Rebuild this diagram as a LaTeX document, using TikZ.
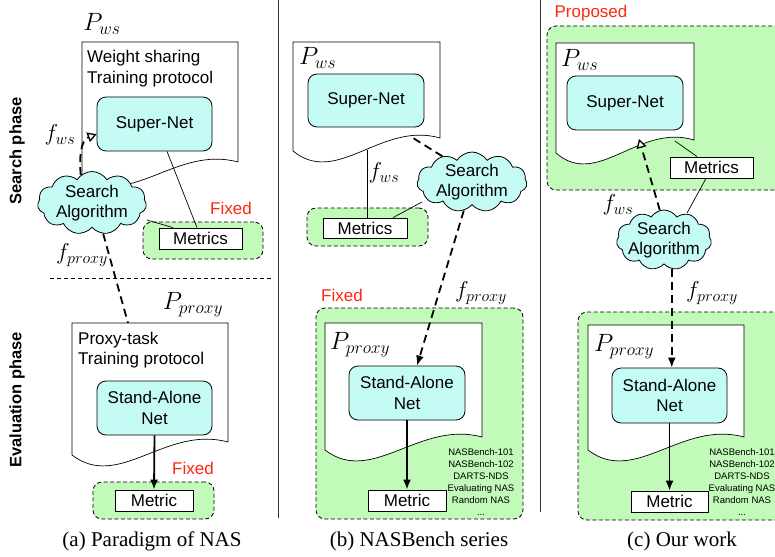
\documentclass[tikz,border=0pt]{standalone}
\usepackage{fix-cm}
\usepackage{fontspec}
\setmainfont{Liberation Sans}
\newfontfamily\capfont{Liberation Serif}
\usetikzlibrary{shapes.symbols,arrows.meta}
\definecolor{cyanfill}{RGB}{197,251,245}
\definecolor{greenfill}{RGB}{194,250,185}
\definecolor{redtxt}{RGB}{255,38,18}
\tikzset{
 txt/.style={font=\fontsize{17}{20.5}\selectfont, inner sep=0pt, align=center},
 netbox/.style={draw, line width=0.8pt, fill=cyanfill, rounded corners=9pt, txt},
 metbox/.style={draw, line width=0.8pt, fill=white, txt},
 greenbox/.style={draw, dash pattern=on 4pt off 2.5pt, line width=0.8pt, fill=greenfill, rounded corners=9pt},
 docline/.style={draw, line width=0.7pt, fill=white},
 cloudst/.style={cloud, cloud puffs=11, cloud puff arc=115, cloud ignores aspect, draw, line width=0.8pt, fill=cyanfill, inner sep=0pt},
 plab/.style={font=\fontsize{25}{30}\selectfont, inner sep=0pt},
 flab/.style={font=\fontsize{23}{28}\selectfont, inner sep=0pt},
 redlab/.style={txt, text=redtxt},
 conn/.style={line width=0.7pt},
 dasharrow/.style={line width=1.8pt, dash pattern=on 8pt off 5pt},
 openhead/.style={-{Triangle[open,length=9pt,width=10pt,fill=white,line width=1.3pt]}},
 fullhead/.style={-{Latex[length=10pt,width=8pt]}},
 capst/.style={font=\capfont\fontsize{21}{25}\selectfont, inner sep=0pt},
 phase/.style={font=\bfseries\fontsize{16.5}{20}\selectfont, rotate=90, inner sep=0pt},
 listst/.style={font=\fontsize{9.5}{12}\selectfont, align=center, inner sep=0pt}
}
% document shape: x1, y1 (top), x2, yb (left bottom end)
\newcommand\docshape[4]{%
 \path[docline] (#1,#2) -- (#3,#2) -- (#3,{#4-13}) .. controls ({#1+0.6*(#3-#1)},{#4-30}) and ({#1+0.3*(#3-#1)},{#4+36}) .. (#1,#4) -- cycle;}
\begin{document}
\begin{tikzpicture}[x=1pt,y=-1pt]
\useasboundingbox (0,0) rectangle (775,556);
\clip (0,0) rectangle (775,556);
\fill[white] (0,0) rectangle (775,556);

% dividers
\coordinate (divAt) at (278,0); \coordinate (divAb) at (278,518);
\coordinate (divBt) at (540,0); \coordinate (divBb) at (540,512);
\draw[line width=1pt, black!80] (divAt) -- (divAb);
\draw[line width=1pt, black!80] (divBt) -- (divBb);
\coordinate (sepL) at (50,278); \coordinate (sepR) at (272,278);
\draw[line width=0.8pt, dash pattern=on 4pt off 3pt] (sepL) -- (sepR);

% phase labels
\node[phase] (phS) at (17,151) {Search phase};
\node[phase] (phE) at (17,400) {Evaluation phase};

%%%%%%%%%%%% (a)
\node[greenbox, minimum width=120pt, minimum height=37pt] (greenA) at (203,240.5) {};
\node[greenbox, minimum width=121pt, minimum height=37pt] (greenA2) at (153.5,500.5) {};
\docshape{82}{42}{238}{175}
\docshape{72}{323}{228}{455}
\node[plab] (PwsA) at (102,24) {$P_{ws}$};
\node[txt, align=left, anchor=west] (wsA) at (87,68.5) {Weight sharing\\Training protocol};
\node[netbox, minimum width=115pt, minimum height=54pt] (supernetA) at (154.5,124) {Super-Net};
\node[metbox, minimum width=83pt, minimum height=21pt] (metricsA) at (200.5,238.5) {Metrics};
\node[redlab] (fixA) at (231,208) {Fixed};
\node[flab] (fwsA) at (60,135) {$f_{ws}$};
\node[flab] (fproxyA) at (82,255) {$f_{proxy}$};
\node[plab] (PproxyA) at (193,305) {$P_{proxy}$};
\node[txt, align=left, anchor=west] (ptA) at (78,350) {Proxy-task\\Training protocol};
\node[netbox, minimum width=115pt, minimum height=54pt] (sanetA) at (154.5,408) {Stand-Alone\\Net};
\node[metbox, minimum width=78pt, minimum height=21pt] (metricA) at (154,500.5) {Metric};
\node[redlab] (fixA2) at (193,468) {Fixed};
\coordinate (docAptop) at (128,323);
\draw[conn] ([xshift=12.5pt]supernetA.south) -- ([xshift=-3.5pt]metricsA.north);
\draw[conn] (147,220) coordinate (clAm) -- ([xshift=-27.5pt]metricsA.north);
\node[cloudst, minimum width=109pt, minimum height=63pt] (cloudA) at (92,203) {};
\node[txt] (cloudAt) at (cloudA.center) {Search\\Algorithm};
\draw[dasharrow, openhead] (cloudA.112) to[out=95,in=200] (supernetA.190);
\draw[dasharrow] (cloudA.-70) -- (docAptop);
\draw[line width=1.8pt, fullhead] (sanetA.south) -- (metricA.north);
\node[capst] (capA) at (152,541) {(a) Paradigm of NAS};

%%%%%%%%%%%% (b)
\node[greenbox, minimum width=121pt, minimum height=38pt] (greenB) at (367.5,227) {};
\node[greenbox, minimum width=207pt, minimum height=211pt] (greenB2) at (419.5,413.5) {};
\docshape{293}{42}{440}{151}
\docshape{325}{323}{482}{450}
\node[plab, anchor=west] (PwsB) at (299,58) {$P_{ws}$};
\node[netbox, minimum width=116pt, minimum height=53pt] (supernetB) at (366,100.5) {Super-Net};
\node[metbox, minimum width=84pt, minimum height=20pt] (metricsB) at (365,228) {Metrics};
\node[flab] (fwsB) at (384,173) {$f_{ws}$};
\node[redlab] (fixB) at (342,295) {Fixed};
\node[flab] (fproxyB) at (481,293) {$f_{proxy}$};
\node[plab, anchor=west] (PproxyB) at (330,345) {$P_{proxy}$};
\node[netbox, minimum width=116pt, minimum height=54pt] (sanetB) at (407,393) {Stand-Alone\\Net};
\node[metbox, minimum width=78pt, minimum height=21pt] (metricB) at (407,500.5) {Metric};
\node[listst] (listB) at (481,482) {NASBench-101\\NASBench-102\\DARTS-NDS\\Evaluating NAS\\Random NAS\\...};
\coordinate (docBbot) at (367,150);
\coordinate (docBbot2) at (413,138);
\draw[conn] (docBbot) -- (docBbot |- metricsB.north);
\draw[conn] ([xshift=28pt]metricsB.north) -- (422,202) coordinate (clBm);
\node[cloudst, minimum width=110pt, minimum height=60pt] (cloudB) at (472,182) {};
\node[txt] (cloudBt) at (cloudB.center) {Search\\Algorithm};
\draw[dasharrow] (cloudB.139) -- (docBbot2);
\draw[dasharrow, fullhead] (cloudB.-106) -- ([xshift=10pt]sanetB.north);
\draw[line width=1.8pt, fullhead] (sanetB.south) -- (metricB.north);
\node[capst] (capB) at (419,541) {(b) NASBench series};

%%%%%%%%%%%% (c)
\node[greenbox, minimum width=260pt, minimum height=164pt] (greenC) at (677,108) {};
\node[greenbox, minimum width=230pt, minimum height=208pt] (greenC2) at (693,416) {};
\docshape{556}{43}{694}{153}
\docshape{588}{325}{744}{450}
\node[redlab] (propC) at (591,13) {Proposed};
\node[plab, anchor=west] (PwsC) at (561,60) {$P_{ws}$};
\node[netbox, minimum width=116pt, minimum height=54pt] (supernetC) at (625,103) {Super-Net};
\node[metbox, minimum width=83pt, minimum height=21pt] (metricsC) at (711.5,167.5) {Metrics};
\node[flab] (fwsC) at (618,205) {$f_{ws}$};
\node[flab] (fproxyC) at (712,293) {$f_{proxy}$};
\node[plab, anchor=west] (PproxyC) at (594,347) {$P_{proxy}$};
\node[netbox, minimum width=115pt, minimum height=55pt] (sanetC) at (669.5,395.5) {Stand-Alone\\Net};
\node[metbox, minimum width=77pt, minimum height=21pt] (metricC) at (669.5,501.5) {Metric};
\node[listst] (listC) at (742,482) {NASBench-101\\NASBench-102\\DARTS-NDS\\Evaluating NAS\\Random NAS\\...};
\coordinate (docCbot) at (675,141);
\coordinate (docCbot2) at (639,139);
\draw[conn] (docCbot) -- ([xshift=-14.5pt]metricsC.north);
\draw[conn] ([xshift=-5.5pt]metricsC.south) -- (687,213) coordinate (clCm);
\node[cloudst, minimum width=95pt, minimum height=60pt] (cloudC) at (664,240) {};
\node[txt] (cloudCt) at (cloudC.center) {Search\\Algorithm};
\draw[dasharrow, openhead] (cloudC.98) -- (docCbot2);
\draw[dasharrow, fullhead] (cloudC.-75) -- (cloudC.-75 |- sanetC.north);
\draw[line width=1.8pt, fullhead] (sanetC.south) -- (metricC.north);
\node[capst] (capC) at (682,541) {(c) Our work};
\end{tikzpicture}
\end{document}
